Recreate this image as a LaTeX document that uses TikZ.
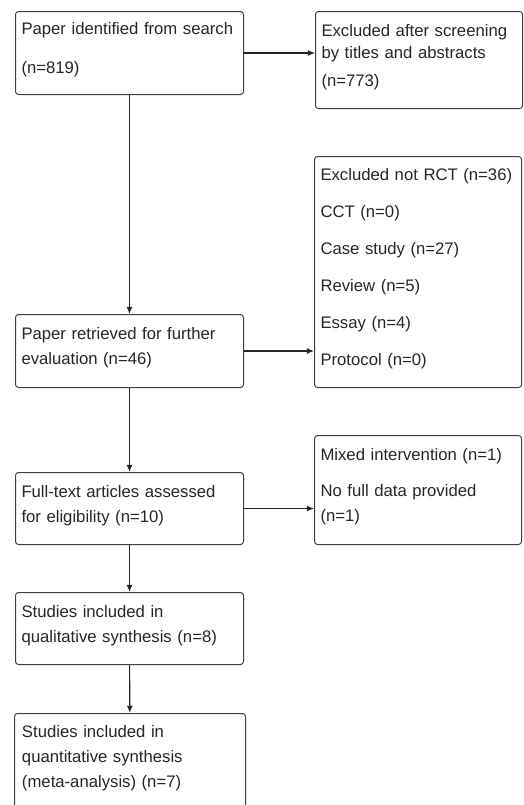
\documentclass[tikz,border=0pt]{standalone}
\usepackage{fontspec}
\setmainfont{Liberation Sans}
\usetikzlibrary{arrows.meta}

\newcommand*{\lw}{114pt}
\newcommand*{\rw}{103.5pt}
\newcommand*{\gap}{\rule[-5pt]{0pt}{0pt}}

\tikzset{
  stage/.style={draw=black!75, line width=0.5pt, rounded corners=1.5pt,
    anchor=north west, align=left, inner xsep=3pt, inner ysep=0pt,
    text=black!85, font=\fontsize{8.35pt}{12.5pt}\selectfont,
    execute at end node=\gap},
  leftstage/.style={stage, minimum width=\lw, text width=\lw-6pt},
  rightstage/.style={stage, minimum width=\rw, text width=\rw-6pt},
  flow/.style={draw=black!85, line width=0.55pt, -{Latex[length=3.6pt,width=3pt]}}
}

\begin{document}
\begin{tikzpicture}[x=0.5pt,y=-0.5pt]

	\useasboundingbox (0,0) rectangle (524,805);

	% main column
	\node[leftstage, minimum height=41.5pt] (search) at (15,11)
	  {Paper identified from search\\[7pt](n=819)};
	\node[leftstage, minimum height=36.5pt] (retrieved) at (15,314)
	  {Paper retrieved for further\\evaluation (n=46)};
	\node[leftstage, minimum height=36pt] (fulltext) at (15,472)
	  {Full-text articles assessed\\for eligibility (n=10)};
	\node[leftstage, minimum height=36pt] (qualitative) at (15,592)
	  {Studies included in\\qualitative synthesis (n=8)};
	\node[leftstage, minimum height=48pt, minimum width=115.5pt] (quantitative) at (14,713)
	  {Studies included in\\quantitative synthesis\\(meta-analysis) (n=7)};

	% exclusions
	\node[rightstage, minimum height=48.5pt] (screened) at (315,11)
	  {Excluded after screening\\[-1.5pt]by titles and abstracts\\[1.5pt](n=773)};
	\node[rightstage, minimum height=115.5pt] (notrct) at (314,156)
	  {Excluded not RCT (n=36)\\[6pt]CCT (n=0)\\[6pt]Case study (n=27)\\[6pt]Review (n=5)\\[6pt]Essay (n=4)\\[6pt]Protocol (n=0)};
	\node[rightstage, minimum height=54.5pt] (nodata) at (314,435)
	  {Mixed intervention (n=1)\\[5.5pt]No full data provided\\(n=1)};

	% arrows
	\draw[flow] (search) -- (retrieved);
	\draw[flow] (retrieved) -- (fulltext);
	\draw[flow] (fulltext) -- (qualitative);
	\draw[flow] (qualitative) -- (quantitative);

	\draw[flow] (search.east) -- (search.east -| screened.west);
	\draw[flow] (retrieved.east) -- (retrieved.east -| notrct.west);
	\draw[flow] (fulltext.east) -- (fulltext.east -| nodata.west);

\end{tikzpicture}
\end{document}
